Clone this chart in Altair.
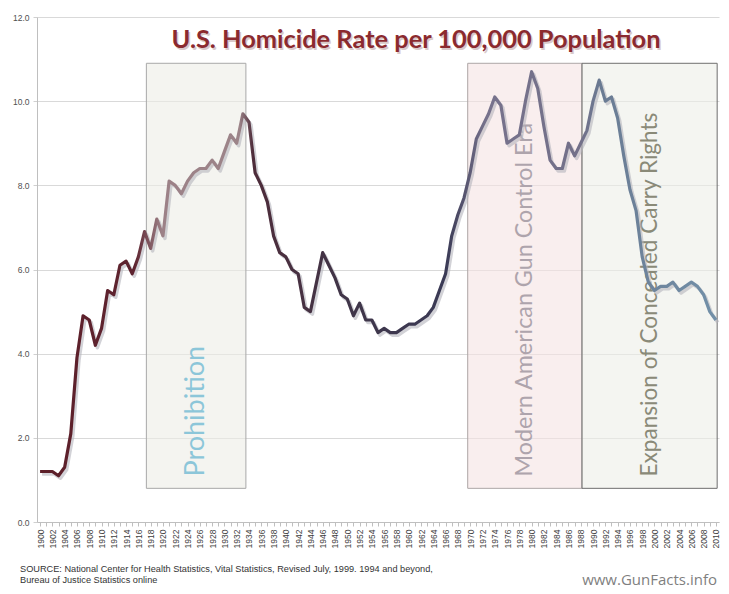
import altair as alt
import pandas as pd

# ---------------- data ----------------
years = list(range(1900, 2011))
rates = [
    1.2, 1.2, 1.2, 1.1, 1.3, 2.1, 3.9, 4.9, 4.8, 4.2,   # 1900-1909
    4.6, 5.5, 5.4, 6.1, 6.2, 5.9, 6.3, 6.9, 6.5, 7.2,   # 1910-1919
    6.8, 8.1, 8.0, 7.8, 8.1, 8.3, 8.4, 8.4, 8.6, 8.4,   # 1920-1929
    8.8, 9.2, 9.0, 9.7, 9.5, 8.3, 8.0, 7.6, 6.8, 6.4,   # 1930-1939
    6.3, 6.0, 5.9, 5.1, 5.0, 5.7, 6.4, 6.1, 5.8, 5.4,   # 1940-1949
    5.3, 4.9, 5.2, 4.8, 4.8, 4.5, 4.6, 4.5, 4.5, 4.6,   # 1950-1959
    4.7, 4.7, 4.8, 4.9, 5.1, 5.5, 5.9, 6.8, 7.3, 7.7,   # 1960-1969
    8.3, 9.1, 9.4, 9.7, 10.1, 9.9, 9.0, 9.1, 9.2, 10.0, # 1970-1979
    10.7, 10.3, 9.4, 8.6, 8.4, 8.4, 9.0, 8.7, 9.0, 9.3, # 1980-1989
    10.0, 10.5, 10.0, 10.1, 9.6, 8.7, 7.9, 7.4, 6.3, 5.7, # 1990-1999
    5.5, 5.6, 5.6, 5.7, 5.5, 5.6, 5.7, 5.6, 5.4, 5.0,   # 2000-2009
    4.8,                                                # 2010
]

box_names = ["Prohibition", "Modern American Gun Control Era",
             "Expansion of Concealed Carry Rights"]
box_start = [1917.3, 1969.6, 1988.2]
box_end = [1933.5, 1988.2, 2010.2]
box_low = [0.8, 0.8, 0.8]
box_high = [10.9, 10.9, 10.9]

y_ticks = [0, 2, 4, 6, 8, 10, 12]

title_text = "U.S. Homicide Rate per 100,000 Population"
source_text = ("SOURCE: National Center for Health Statistics, Vital Statistics, "
               "Revised July, 1999. 1994 and beyond,\nBureau of Justice Statistics online")
watermark_text = "www.GunFacts.info"

# ---------------- styles ----------------
box_fill = ["#EDEDE6", "#F5E3E3", "#EDEEE8"]
box_stroke = ["#A8A8A8", "#ADA5A5", "#6E6E6E"]
label_color = ["#8CC6D9", "#AEA4AC", "#8A8A78"]
label_size = [27, 23.3, 22.6]

W, H = 682, 505

line_df = pd.DataFrame({"year": years, "rate": rates})
box_df = pd.DataFrame({
    "name": box_names, "start": box_start, "end": box_end,
    "low": box_low, "high": box_high,
    "fill": box_fill, "stroke": box_stroke,
    "tcolor": label_color, "fs": label_size,
})
box_df["mid"] = (box_df["start"] + box_df["end"]) / 2
box_df["lab"] = box_df["low"] + 0.28

x_scale = alt.Scale(domain=[1899.5, 2010.5], nice=False, zero=False)
y_scale = alt.Scale(domain=[0, 12], nice=False, zero=True)

x_axis = alt.Axis(
    values=years, format="d",
    labelExpr="datum.value % 2 == 0 ? datum.label : ''",
    labelAngle=270, labelFont="Liberation Sans", labelFontSize=8.5,
    labelColor="#404040", labelPadding=3, labelOverlap=False,
    labelFlush=False, labelBound=False,
    tickSize=4, tickColor="#BFBFBF", domainColor="#BFBFBF",
    grid=False, title=None,
)
y_axis = alt.Axis(
    values=y_ticks, format=".1f", labelFont="Liberation Sans",
    labelFontSize=8.5, labelColor="#505050", labelPadding=4,
    tickSize=4, tickColor="#D0D0D0", domainColor="#BFBFBF",
    grid=True, gridColor="#D9D9D9", title=None,
)

X = alt.X("year:Q", scale=x_scale, axis=x_axis)
Y = alt.Y("rate:Q", scale=y_scale, axis=y_axis)

boxes = alt.Chart(box_df).mark_rect(strokeWidth=1, fillOpacity=0.6).encode(
    x=alt.X("start:Q", scale=x_scale, axis=x_axis),
    x2="end:Q",
    y=alt.Y("low:Q", scale=y_scale, axis=y_axis),
    y2="high:Q",
    fill=alt.Fill("fill:N", scale=None),
    stroke=alt.Stroke("stroke:N", scale=None),
)

labels = alt.Chart(box_df).mark_text(
    angle=270, align="left", baseline="middle", font="Lato"
).encode(
    x=alt.X("mid:Q", scale=x_scale, axis=x_axis),
    y=alt.Y("lab:Q", scale=y_scale, axis=y_axis),
    text="name:N",
    color=alt.Color("tcolor:N", scale=None),
    size=alt.Size("fs:Q", scale=None),
)

shadow = alt.Chart(line_df).mark_line(
    color="#B4B4BC", opacity=0.6, strokeWidth=3.5, xOffset=2, yOffset=2.5,
    strokeJoin="round"
).encode(x=X, y=Y)

grad = alt.Gradient(
    gradient="linear",
    stops=[
        alt.GradientStop(color="#5C1E28", offset=0.0),
        alt.GradientStop(color="#5E2430", offset=0.14),
        alt.GradientStop(color="#9C8187", offset=0.18),
        alt.GradientStop(color="#9C8489", offset=0.295),
        alt.GradientStop(color="#4E2C3A", offset=0.315),
        alt.GradientStop(color="#403548", offset=0.45),
        alt.GradientStop(color="#3A3A55", offset=0.60),
        alt.GradientStop(color="#77728C", offset=0.66),
        alt.GradientStop(color="#737089", offset=0.80),
        alt.GradientStop(color="#6A7B93", offset=0.83),
        alt.GradientStop(color="#7290A8", offset=1.0),
    ],
    x1=0, x2=1, y1=0, y2=0,
)

line = alt.Chart(line_df).mark_line(
    color=grad, strokeWidth=3.2, strokeJoin="round"
).encode(x=X, y=Y)

title_df = pd.DataFrame({"t": [title_text]})
title_shadow = alt.Chart(title_df).mark_text(
    font="Lato", fontWeight="bold", fontSize=25.4, color="#C9B3B3",
    opacity=0.7, align="center", baseline="middle", dx=1.5, dy=1.5
).encode(text="t:N", x=alt.value(379), y=alt.value(23))
title = alt.Chart(title_df).mark_text(
    font="Lato", fontWeight="bold", fontSize=25.4, color="#8B2A2F",
    align="center", baseline="middle"
).encode(text="t:N", x=alt.value(379), y=alt.value(23))

source = alt.Chart(pd.DataFrame({"t": [source_text]})).mark_text(
    font="Liberation Sans", fontSize=9.2, color="#333333", align="left",
    baseline="middle", lineBreak="\n", lineHeight=11
).encode(text="t:N", x=alt.value(-17), y=alt.value(552))

watermark = alt.Chart(pd.DataFrame({"t": [watermark_text]})).mark_text(
    font="Open Sans", fontSize=15, color="#7F7F7F", align="right",
    baseline="middle"
).encode(text="t:N", x=alt.value(680), y=alt.value(563))

chart = alt.layer(
    boxes, labels, shadow, line, title_shadow, title, source, watermark
).properties(
    width=W, height=H,
    padding={"left": 29, "top": 9, "right": 2, "bottom": 66},
    autosize=alt.AutoSizeParams(type="none"),
    background="white",
).configure_view(stroke=None)

chart.save("out.html", embed_options={"renderer": "svg", "actions": False})
